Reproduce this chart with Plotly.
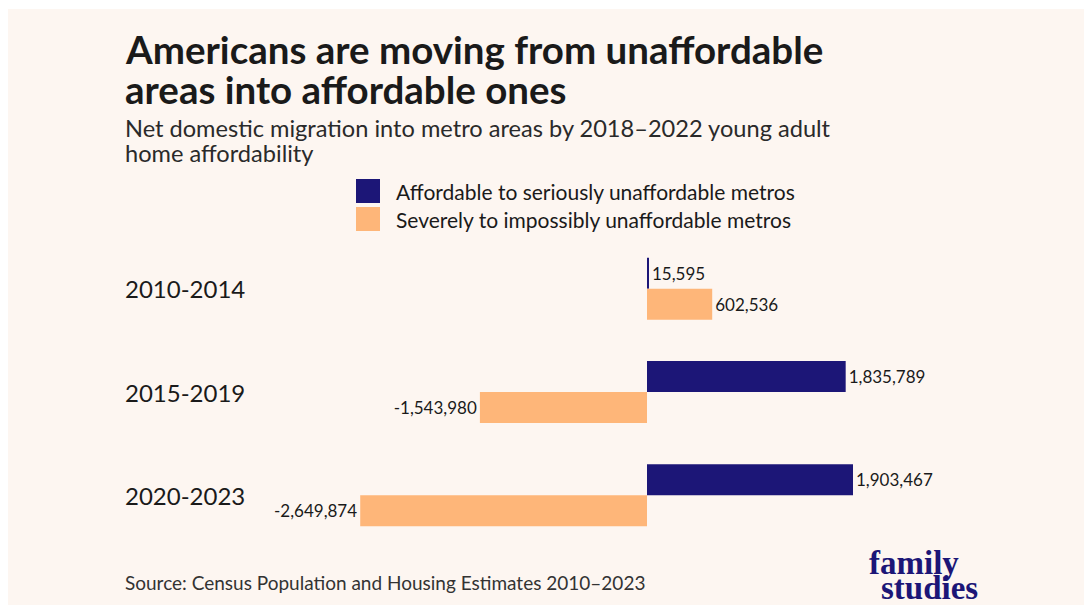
import plotly.graph_objects as go

categories = ["2010-2014", "2015-2019", "2020-2023"]
affordable = [15595, 1835789, 1903467]
unaffordable = [602536, -1543980, -2649874]
series_names = ["Affordable to seriously unaffordable metros",
                "Severely to impossibly unaffordable metros"]
colors = ["#1c1677", "#feb679"]

W, H = 1084, 605
L, R, T, B = 250, 84, 237, 58
PW, PH = W - L - R, H - T - B
ZERO_PX = 647
PX_PER_UNIT = 206 / 1903467

def px(x):
    return (x - L) / PW

def py(y):
    return 1 - (y - T) / PH

FONT = "Lato, 'Open Sans', sans-serif"

def fmt(v):
    return f"{v:,}"

fig = go.Figure()
for name, vals, c in zip(series_names, [affordable, unaffordable], colors):
    fig.add_trace(go.Bar(
        y=categories, x=vals, orientation="h", name=name,
        marker=dict(color=c, line=dict(width=0)),
        text=[fmt(v) for v in vals], textposition="outside",
        textfont=dict(family=FONT, size=17, color="#1a1a1a"),
        cliponaxis=False, showlegend=False,
    ))

xmin = (L - ZERO_PX) / PX_PER_UNIT
xmax = (L + PW - ZERO_PX) / PX_PER_UNIT

shapes = [dict(type="rect", xref="paper", yref="paper",
               x0=px(8), x1=px(W + 5), y0=py(H + 5), y1=py(9),
               fillcolor="#fdf6f1", line=dict(width=0), layer="below")]
annotations = []

# legend
for i, (name, c) in enumerate(zip(series_names, colors)):
    top = 179 + i * 28
    shapes.append(dict(type="rect", xref="paper", yref="paper",
                       x0=px(356), x1=px(380), y0=py(top + 24), y1=py(top),
                       fillcolor=c, line=dict(width=0)))
    annotations.append(dict(text=name, xref="paper", yref="paper",
                            x=px(394), y=py(top + 12), xanchor="left", yanchor="middle",
                            showarrow=False, font=dict(family=FONT, size=21, color="#1a1a1a")))

# category labels
for i, cat in enumerate(categories):
    annotations.append(dict(text=cat, xref="paper", y=cat, x=px(123),
                            xanchor="left", yanchor="middle", showarrow=False,
                            font=dict(family=FONT, size=24, color="#1a1a1a")))

# titles
for txt, y in [("Americans are moving from unaffordable", 49),
               ("areas into affordable ones", 89)]:
    annotations.append(dict(text=f"<b>{txt}</b>", xref="paper", yref="paper",
                            x=px(123), y=py(y), xanchor="left", yanchor="middle",
                            showarrow=False, font=dict(family=FONT, size=38.5, color="#1a1a1a")))
for txt, y in [("Net domestic migration into metro areas by 2018–2022 young adult", 128),
               ("home affordability", 153)]:
    annotations.append(dict(text=txt, xref="paper", yref="paper",
                            x=px(123), y=py(y), xanchor="left", yanchor="middle",
                            showarrow=False, font=dict(family=FONT, size=23.6, color="#2a2a2a")))

annotations.append(dict(text="Source: Census Population and Housing Estimates 2010–2023",
                        xref="paper", yref="paper", x=px(123), y=py(582),
                        xanchor="left", yanchor="middle", showarrow=False,
                        font=dict(family=FONT, size=19, color="#333333")))

for txt, x, y in [("family", 867, 563), ("studies", 879, 588)]:
    annotations.append(dict(text=f"<b>{txt}</b>", xref="paper", yref="paper",
                            x=px(x), y=py(y), xanchor="left", yanchor="middle",
                            showarrow=False,
                            font=dict(family="'Liberation Serif', 'Times New Roman', serif",
                                      size=33, color="#1c1677")))

fig.update_layout(
    width=W, height=H,
    margin=dict(l=L, r=R, t=T, b=B),
    paper_bgcolor="white", plot_bgcolor="rgba(0,0,0,0)",
    barmode="group", bargap=0.4, bargroupgap=0,
    xaxis=dict(range=[xmin, xmax], visible=False, fixedrange=True),
    yaxis=dict(categoryorder="array", categoryarray=categories, autorange="reversed",
               visible=False, fixedrange=True),
    shapes=shapes, annotations=annotations,
)

fig.write_html("out.html")
